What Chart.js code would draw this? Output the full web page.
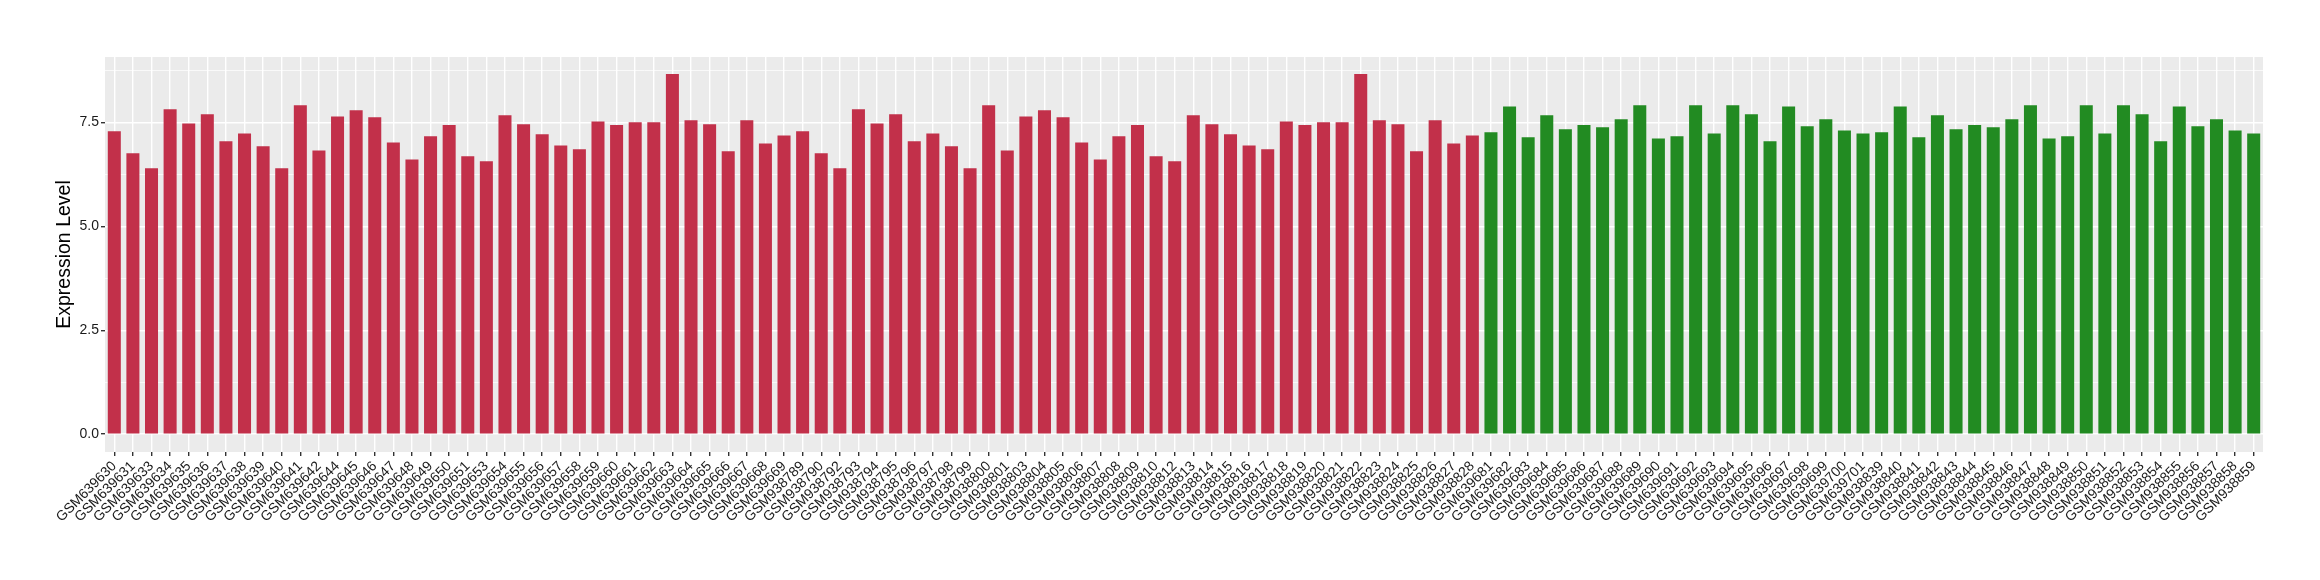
<!DOCTYPE html>
<html>
<head>
<meta charset="utf-8">
<script src="https://cdn.jsdelivr.net/npm/chart.js@4.4.1/dist/chart.umd.min.js"></script>
<style>
  body { margin: 0; background: #fff; }
  #wrap { width: 2320px; height: 580px; }
</style>
</head>
<body>
<div id="wrap"><canvas id="chart" width="2320" height="580"></canvas></div>
<script>
// samples in the first (red) group
var redSamples = [
  "GSM639630","GSM639631","GSM639633","GSM639634","GSM639635","GSM639636","GSM639637","GSM639638","GSM639639","GSM639640",
  "GSM639641","GSM639642","GSM639644","GSM639645","GSM639646","GSM639647","GSM639648","GSM639649","GSM639650","GSM639651",
  "GSM639653","GSM639654","GSM639655","GSM639656","GSM639657","GSM639658","GSM639659","GSM639660","GSM639661","GSM639662",
  "GSM639663","GSM639664","GSM639665","GSM639666","GSM639667","GSM639668","GSM639669",
  "GSM938789","GSM938790","GSM938792","GSM938793","GSM938794","GSM938795","GSM938796","GSM938797","GSM938798","GSM938799",
  "GSM938800","GSM938801","GSM938803","GSM938804","GSM938805","GSM938806","GSM938807","GSM938808","GSM938809","GSM938810",
  "GSM938812","GSM938813","GSM938814","GSM938815","GSM938816","GSM938817","GSM938818","GSM938819","GSM938820","GSM938821",
  "GSM938822","GSM938823","GSM938824","GSM938825","GSM938826","GSM938827","GSM938828"
];
var redValues = [
  7.29,6.76,6.40,7.82,7.48,7.70,7.05,7.24,6.93,6.40,
  7.92,6.83,7.65,7.80,7.63,7.02,6.61,7.17,7.44,6.69,
  6.57,7.68,7.46,7.22,6.95,6.86,7.53,7.44,7.51,7.51,
  8.67,7.56,7.46,6.81,7.56,7.00,7.19,
  7.29,6.76,6.40,7.82,7.48,7.70,7.05,7.24,6.93,6.40,
  7.92,6.83,7.65,7.80,7.63,7.02,6.61,7.17,7.44,6.69,
  6.57,7.68,7.46,7.22,6.95,6.86,7.53,7.44,7.51,7.51,
  8.67,7.56,7.46,6.81,7.56,7.00,7.19
];

// samples in the second (green) group
var greenSamples = [
  "GSM639681","GSM639682","GSM639683","GSM639684","GSM639685","GSM639686","GSM639687","GSM639688","GSM639689","GSM639690",
  "GSM639691","GSM639692","GSM639693","GSM639694","GSM639695","GSM639696","GSM639697","GSM639698","GSM639699","GSM639700",
  "GSM639701",
  "GSM938839","GSM938840","GSM938841","GSM938842","GSM938843","GSM938844","GSM938845","GSM938846","GSM938847","GSM938848",
  "GSM938849","GSM938850","GSM938851","GSM938852","GSM938853","GSM938854","GSM938855","GSM938856","GSM938857","GSM938858",
  "GSM938859"
];
var greenValues = [
  7.27,7.89,7.15,7.68,7.34,7.44,7.39,7.58,7.92,7.12,
  7.17,7.92,7.24,7.92,7.70,7.05,7.89,7.41,7.58,7.31,
  7.24,
  7.27,7.89,7.15,7.68,7.34,7.44,7.39,7.58,7.92,7.12,
  7.17,7.92,7.24,7.92,7.70,7.05,7.89,7.41,7.58,7.31,
  7.24
];

var yTicks = [0, 1.25, 2.5, 3.75, 5, 6.25, 7.5, 8.75];
var yMajor = [0, 2.5, 5, 7.5];

var redColor = "#C2304A";
var greenColor = "#228B22";

var labels = redSamples.concat(greenSamples);
var values = redValues.concat(greenValues);
var colors = redSamples.map(function() { return redColor; })
  .concat(greenSamples.map(function() { return greenColor; }));

function isMajor(v) {
  return yMajor.indexOf(v) >= 0;
}

// grey panel behind the grid, like ggplot's theme_grey
var panelBg = {
  id: "panelBg",
  beforeDraw: function(chart) {
    var a = chart.chartArea, ctx = chart.ctx;
    ctx.save();
    ctx.fillStyle = "#EBEBEB";
    ctx.fillRect(a.left, a.top, a.right - a.left, a.bottom - a.top);
    ctx.restore();
  }
};

var ctx = document.getElementById("chart").getContext("2d");
new Chart(ctx, {
  type: "bar",
  data: {
    labels: labels,
    datasets: [{
      data: values,
      backgroundColor: colors,
      borderWidth: 0,
      barPercentage: 0.7,
      categoryPercentage: 1.0
    }]
  },
  plugins: [panelBg],
  options: {
    responsive: false,
    animation: false,
    layout: { padding: { left: 0, right: 57, top: 57, bottom: 0 } },
    plugins: {
      legend: { display: false },
      tooltip: { enabled: false }
    },
    scales: {
      x: {
        offset: true,
        grid: {
          offset: false,
          color: "#FFFFFF",
          lineWidth: 1.4,
          tickColor: "#333333",
          tickLength: 4
        },
        border: { display: false },
        ticks: {
          autoSkip: false,
          maxRotation: 45,
          minRotation: 45,
          padding: 2,
          color: "#1A1A1A",
          font: { family: "'Liberation Sans', Arial, sans-serif", size: 14 }
        },
        afterFit: function(scale) { scale.height = 128; }
      },
      y: {
        min: -0.43,
        max: 9.08,
        afterBuildTicks: function(scale) {
          scale.ticks = yTicks.map(function(v) { return { value: v }; });
        },
        grid: {
          color: "#FFFFFF",
          lineWidth: function(c) { return isMajor(c.tick.value) ? 1.4 : 0.7; },
          tickColor: function(c) { return isMajor(c.tick.value) ? "#333333" : "rgba(0,0,0,0)"; },
          tickLength: 4
        },
        border: { display: false },
        ticks: {
          padding: 2,
          color: "#1A1A1A",
          font: { family: "'Liberation Sans', Arial, sans-serif", size: 14 },
          callback: function(v) { return isMajor(v) ? v.toFixed(1) : ""; }
        },
        title: {
          display: true,
          text: "Expression Level",
          color: "#000000",
          padding: { top: 53, bottom: 0 },
          font: { family: "'Liberation Sans', Arial, sans-serif", size: 19.5 }
        },
        afterFit: function(scale) { scale.width = 105; }
      }
    }
  }
});
</script>
</body>
</html>
